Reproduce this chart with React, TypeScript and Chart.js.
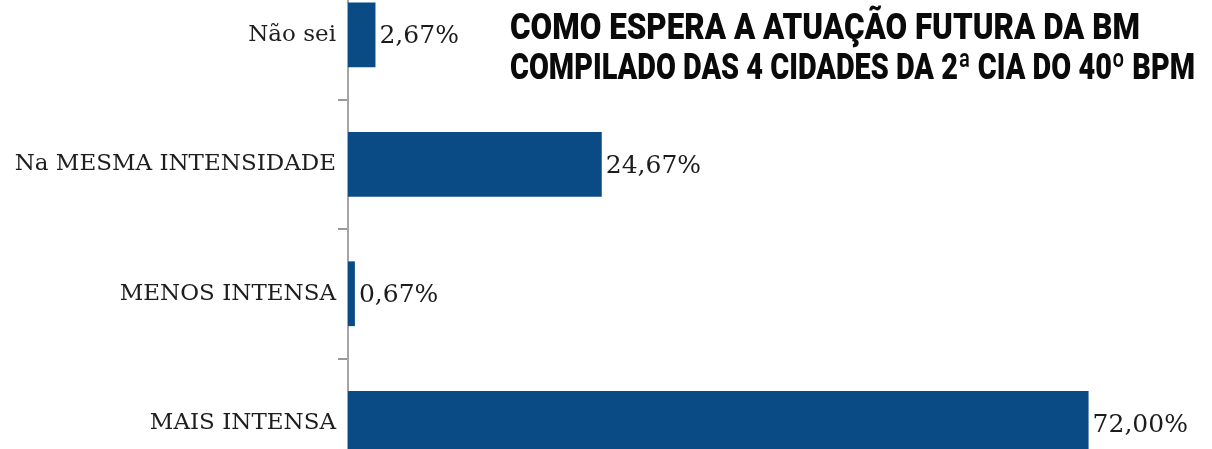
import React, { useEffect, useLayoutEffect, useRef } from "react";
import { Chart, registerables } from "chart.js";

Chart.register(...registerables);

const categories = ["Não sei", "Na MESMA INTENSIDADE", "MENOS INTENSA", "MAIS INTENSA"];
const values = [2.67, 24.67, 0.67, 72.0];
const valueLabels = ["2,67%", "24,67%", "0,67%", "72,00%"];
const titleLines = [
  "COMO ESPERA A ATUAÇÃO FUTURA DA BM",
  "COMPILADO DAS 4 CIDADES DA 2ª CIA DO 40º BPM",
];
const titleWidths = [630, 685];

const BAR_COLOR = "#0b4b85";

const valueLabelPlugin = {
  id: "valueLabels",
  afterDatasetsDraw(chart: any) {
    const ctx = chart.ctx;
    const meta = chart.getDatasetMeta(0);
    ctx.save();
    ctx.font = "25px 'DejaVu Serif', serif";
    ctx.fillStyle = "#1c1c1c";
    ctx.textAlign = "left";
    ctx.textBaseline = "middle";
    meta.data.forEach((bar: any, i: number) => {
      ctx.fillText(valueLabels[i], bar.x + 4, bar.y + 2);
    });
    ctx.restore();
  },
};

function TitleLine({ text, width, top }: { text: string; width: number; top: number }) {
  const ref = useRef<HTMLDivElement | null>(null);
  useLayoutEffect(() => {
    const el = ref.current;
    if (!el) return;
    el.style.transform = "none";
    const w = el.getBoundingClientRect().width;
    if (w > 0) el.style.transform = `scaleX(${width / w})`;
  }, [text, width]);
  return (
    <div
      ref={ref}
      style={{
        position: "absolute",
        left: 510,
        top,
        fontFamily: "Roboto, 'Liberation Sans', sans-serif",
        fontWeight: 900,
        fontSize: 37,
        lineHeight: "40px",
        color: "#0a0a0a",
        whiteSpace: "nowrap",
        transformOrigin: "0 0",
        display: "inline-block",
      }}
    >
      {text}
    </div>
  );
}

export default function App() {
  const canvasRef = useRef<HTMLCanvasElement | null>(null);

  useEffect(() => {
    if (!canvasRef.current) return;
    const chart = new Chart(canvasRef.current, {
      type: "bar",
      data: {
        labels: categories,
        datasets: [
          {
            data: values,
            backgroundColor: BAR_COLOR,
            borderWidth: 0,
            barPercentage: 0.5,
            categoryPercentage: 1,
          },
        ],
      },
      options: {
        indexAxis: "y",
        responsive: false,
        animation: false,
        devicePixelRatio: 1,
        layout: { padding: 0 },
        plugins: {
          legend: { display: false },
          title: { display: false },
          tooltip: { enabled: false },
        },
        scales: {
          x: {
            display: false,
            min: 0,
            max: 84,
          },
          y: {
            afterFit: (scale: any) => {
              scale.width = 348;
              scale.paddingTop = 0;
              scale.paddingBottom = 0;
            },
            grid: {
              display: true,
              drawOnChartArea: false,
              drawTicks: true,
              tickLength: 10,
              color: "#9a9a9a",
              lineWidth: 2,
              offset: true,
            },
            border: { display: true, color: "#a6a6a6", width: 2 },
            ticks: {
              padding: 2,
              color: "#1e1e1e",
              font: { family: "'DejaVu Serif', serif", size: 23 },
            },
          },
        },
      },
      plugins: [valueLabelPlugin],
    });
    return () => chart.destroy();
  }, []);

  return (
    <div
      style={{
        position: "fixed",
        left: 0,
        top: 0,
        width: 1212,
        height: 449,
        overflow: "hidden",
        background: "#ffffff",
      }}
    >
      <div style={{ position: "absolute", left: 0, top: -30, width: 1212, height: 518 }}>
        <canvas ref={canvasRef} width={1212} height={518} style={{ display: "block" }} />
      </div>
      {titleLines.map((t, i) => (
        <TitleLine key={i} text={t} width={titleWidths[i]} top={7 + i * 40} />
      ))}
    </div>
  );
}
